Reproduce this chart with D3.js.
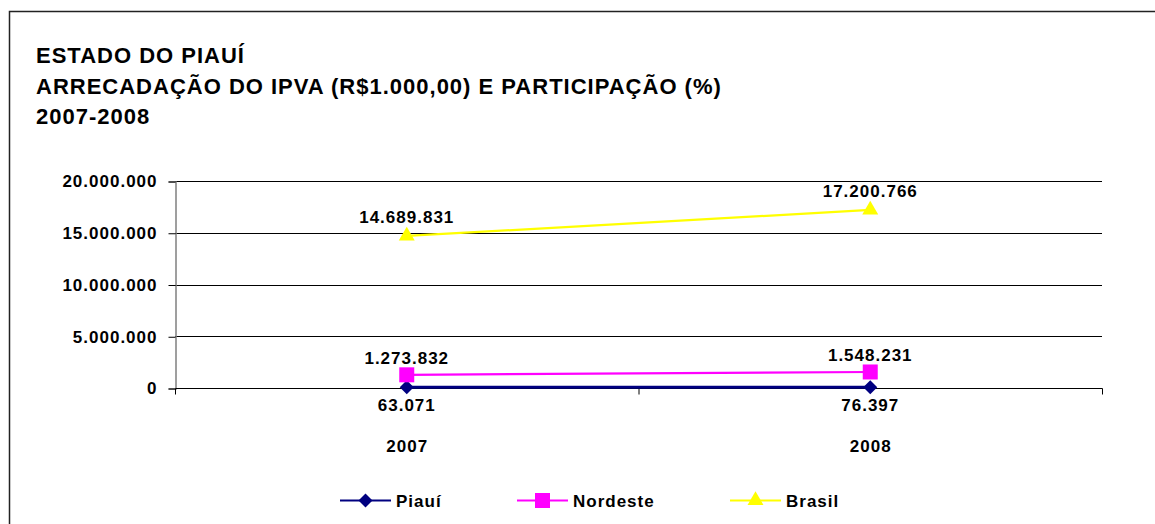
<!DOCTYPE html>
<html>
<head>
<meta charset="utf-8">
<script src="https://cdn.jsdelivr.net/npm/d3@7"></script>
<style>
  body { margin: 0; background: #fff; }
  text { font-family: "Liberation Sans", Arial, sans-serif; font-weight: bold; fill: #000; }
</style>
</head>
<body>
<svg id="chart" width="1155" height="524"></svg>
<script>
const anos = ['2007', '2008'];
const seriesNomes = ['Piauí', 'Nordeste', 'Brasil'];
const piaui = [63071, 76397];
const nordeste = [1273832, 1548231];
const brasil = [14689831, 17200766];
const yTicks = [0, 5000000, 10000000, 15000000, 20000000];
const titulo = ['ESTADO DO PIAUÍ', 'ARRECADAÇÃO DO IPVA (R$1.000,00) E PARTICIPAÇÃO (%)', '2007-2008'];

const cores = { 'Piauí': '#000080', 'Nordeste': '#ff00ff', 'Brasil': '#ffff00' };
const valores = { 'Piauí': piaui, 'Nordeste': nordeste, 'Brasil': brasil };
const rotuloDy = { 'Piauí': 24, 'Nordeste': -11, 'Brasil': -13 };
const espessura = { 'Piauí': 3, 'Nordeste': 2.2, 'Brasil': 2.2 };

// losango largo como no excel
const losango = {
    draw(ctx, size) {
        const r = Math.sqrt(size) / 2;
        ctx.moveTo(0, -r);
        ctx.lineTo(r, 0);
        ctx.lineTo(0, r);
        ctx.lineTo(-r, 0);
        ctx.closePath();
    }
};
const simbolos = { 'Piauí': losango, 'Nordeste': d3.symbolSquare, 'Brasil': d3.symbolTriangle };
const tamanhos = { 'Piauí': 196, 'Nordeste': 225, 'Brasil': 110 };

const br = d3.formatLocale({ decimal: ',', thousands: '.', grouping: [3], currency: ['R$', ''] });
const fmt = br.format(',d');

const svg = d3.select('#chart');
const margin = { left: 175, right: 53, top: 181, bottom: 136 };
const W = 1155, H = 524;

// moldura
svg.append('path')
    .attr('d', `M9.5,${H + 5} V11.5 H${W + 5}`)
    .attr('fill', 'none')
    .attr('stroke', '#222')
    .attr('stroke-width', 1.5);

// titulo
svg.append('g').selectAll('text')
    .data(titulo)
    .enter()
    .append('text')
    .attr('x', 36)
    .attr('y', (d, i) => 63 + i * 30.5)
    .style('font-size', '22px')
    .style('letter-spacing', '1px')
    .text(d => d);

const x = d3.scaleBand()
    .domain(anos)
    .range([margin.left, W - margin.right]);

const y = d3.scaleLinear()
    .domain([0, 20000000])
    .range([H - margin.bottom, margin.top]);

const cx = i => x(anos[i]) + x.bandwidth() / 2;

// grade
svg.append('g')
    .selectAll('line')
    .data(yTicks.filter(d => d > 0))
    .enter()
    .append('line')
    .attr('x1', margin.left)
    .attr('x2', W - margin.right)
    .attr('y1', d => Math.round(y(d)) + 0.5)
    .attr('y2', d => Math.round(y(d)) + 0.5)
    .attr('stroke', '#000')
    .attr('stroke-width', 1);

// eixo y
const yAxis = svg.append('g')
    .attr('transform', `translate(${margin.left + 0.5},0.5)`)
    .call(d3.axisLeft(y).tickValues(yTicks).tickFormat(fmt).tickSize(7).tickPadding(11));
yAxis.select('.domain').attr('stroke', '#808080').attr('stroke-width', 1.5);
yAxis.selectAll('.tick line').attr('stroke', '#000');
yAxis.selectAll('.tick text').style('font-size', '17px').style('letter-spacing', '1px').attr('fill', '#000');

// eixo x
const xAxis = svg.append('g')
    .attr('transform', `translate(0.5,${Math.round(y(0)) + 0.5})`);
xAxis.append('line')
    .attr('x1', margin.left)
    .attr('x2', W - margin.right)
    .attr('stroke', '#000');
xAxis.selectAll('.divisor')
    .data([...anos.map(a => x(a)), W - margin.right])
    .enter()
    .append('line')
    .attr('x1', d => d)
    .attr('x2', d => d)
    .attr('y1', 0)
    .attr('y2', 6)
    .attr('stroke', '#000');
xAxis.selectAll('.rot')
    .data(anos)
    .enter()
    .append('text')
    .attr('x', d => x(d) + x.bandwidth() / 2)
    .attr('y', 63)
    .attr('text-anchor', 'middle')
    .style('font-size', '17px')
    .style('letter-spacing', '1px')
    .text(d => d);

const linha = d3.line()
    .x((d, i) => cx(i))
    .y(d => y(d));

seriesNomes.forEach(nome => {
    const vals = valores[nome];
    const g = svg.append('g');
    g.append('path')
        .datum(vals)
        .attr('d', linha)
        .attr('fill', 'none')
        .attr('stroke', cores[nome])
        .attr('stroke-width', espessura[nome]);
    g.selectAll('path.m')
        .data(vals)
        .enter()
        .append('path')
        .attr('class', 'm')
        .attr('transform', (d, i) => `translate(${cx(i)},${y(d)})`)
        .attr('d', d3.symbol().type(simbolos[nome]).size(tamanhos[nome]))
        .attr('fill', cores[nome]);
    g.selectAll('text')
        .data(vals)
        .enter()
        .append('text')
        .attr('x', (d, i) => cx(i))
        .attr('y', d => y(d) + rotuloDy[nome])
        .attr('text-anchor', 'middle')
        .style('font-size', '17px')
        .style('letter-spacing', '1px')
        .text(d => fmt(d));
});

// legenda
const legX = [340, 517, 730];
const leg = svg.append('g')
    .selectAll('g')
    .data(seriesNomes)
    .enter()
    .append('g')
    .attr('transform', (d, i) => `translate(${legX[i]},500.5)`);
leg.append('line')
    .attr('x1', 0)
    .attr('x2', 51)
    .attr('stroke', d => cores[d])
    .attr('stroke-width', 2);
leg.append('path')
    .attr('transform', 'translate(25.5,0)')
    .attr('d', d => d3.symbol().type(simbolos[d]).size(tamanhos[d])())
    .attr('fill', d => cores[d]);
leg.append('text')
    .attr('x', 56)
    .attr('y', 6)
    .style('font-size', '17px')
    .style('letter-spacing', '1px')
    .text(d => d);
</script>
</body>
</html>
